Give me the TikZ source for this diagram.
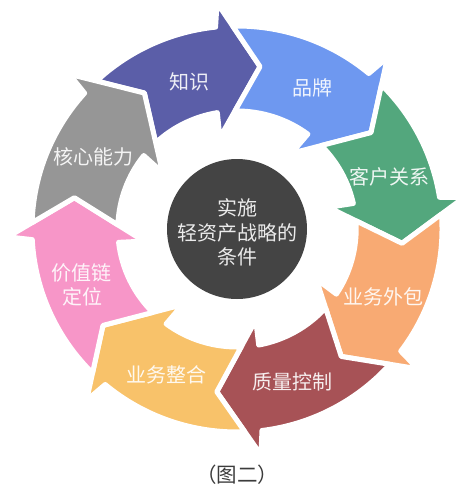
\documentclass[tikz,border=0pt]{standalone}
\usepackage{fontspec}
\newfontfamily\cjk{Noto Sans CJK SC}
\definecolor{cZhishi}{RGB}{91,94,168}
\definecolor{cPinpai}{RGB}{110,152,240}
\definecolor{cKehu}{RGB}{83,167,125}
\definecolor{cWaibao}{RGB}{248,170,115}
\definecolor{cZhiliang}{RGB}{167,82,86}
\definecolor{cZhenghe}{RGB}{248,194,106}
\definecolor{cJiazhi}{RGB}{247,150,200}
\definecolor{cHexin}{RGB}{150,150,150}
\definecolor{cCenter}{RGB}{68,68,68}
\definecolor{cCaption}{RGB}{60,60,60}
\newcommand\ringarrow[3]{%
  \filldraw[seg, fill=#1]
   ({#3+9.2}:203pt) arc[start angle={#3+9.2}, end angle={#2+14}, radius=203pt]
   -- ({#2+13}:227pt) -- ({#2}:164pt) -- ({#2+18.5}:93pt) -- ({#2+17.5}:118pt)
   arc[start angle={#2+17.5}, end angle={#3+9}, radius=118pt]
   -- ({#3}:164pt) -- cycle;
}
\tikzset{
  seg/.style={line width=5pt, draw=white, line join=round},
  lbl/.style={text=white, text opacity=0.9, font=\cjk\fontsize{20}{24}\selectfont, align=center, inner sep=0pt},
  ctr/.style={text=white!92!black, font=\cjk\fontsize{20}{24.5}\selectfont, align=center, inner sep=0pt},
  captxt/.style={text=cCaption, font=\cjk\fontsize{20.5}{24}\selectfont, inner sep=0pt},
}
\begin{document}
\begin{tikzpicture}
\path[use as bounding box] (0pt,0pt) rectangle (474pt,-496pt);
\begin{scope}[shift={(237pt,-229pt)}, xscale=1.01]
  \ringarrow{cZhishi}{82}{124}
  \ringarrow{cPinpai}{36}{82}
  \ringarrow{cKehu}{-5}{36}
  \ringarrow{cWaibao}{-51}{-5}
  \ringarrow{cZhiliang}{-97}{-51}
  \ringarrow{cZhenghe}{-144}{-97}
  \ringarrow{cJiazhi}{169}{216}
  \ringarrow{cHexin}{124}{169}
\end{scope}
\node[circle, fill=cCenter, minimum size=140pt, inner sep=0pt] (hub) at (237pt,-229pt) {};
\node[ctr] (hubtext) at (237pt,-232.5pt) {实施\\轻资产战略的\\条件};
\node[lbl] (lZhishi) at (189pt,-82pt) {知识};
\node[lbl] (lPinpai) at (312pt,-88pt) {品牌};
\node[lbl] (lKehu) at (389pt,-177pt) {客户关系};
\node[lbl] (lWaibao) at (383pt,-297pt) {业务外包};
\node[lbl] (lZhiliang) at (292pt,-382pt) {质量控制};
\node[lbl] (lZhenghe) at (166pt,-375pt) {业务整合};
\node[lbl] (lJiazhi) at (82pt,-285pt) {价值链\\定位};
\node[lbl] (lHexin) at (93pt,-157pt) {核心能力};
\node[captxt] (caption) at (237pt,-475pt) {（图二）};
\end{tikzpicture}
\end{document}
